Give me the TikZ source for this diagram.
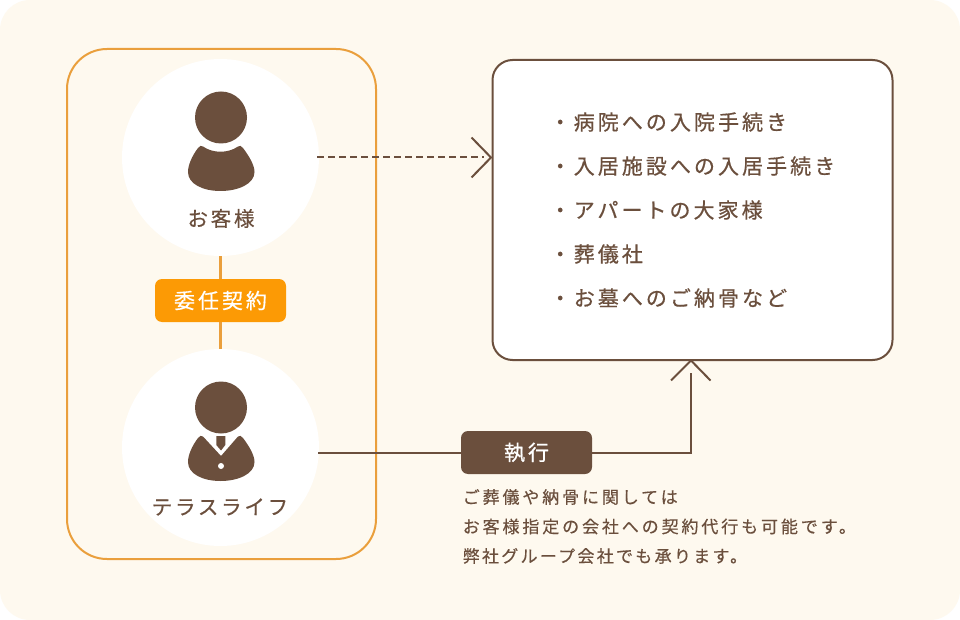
\documentclass[tikz,border=0pt]{standalone}
\usepackage{fontspec}
\newfontfamily\jplist[LetterSpace=14.5,FakeBold=0.6]{Noto Sans CJK JP}
\newfontfamily\jpnote[LetterSpace=17,FakeBold=0.4]{Noto Sans CJK JP}
\newfontfamily\jpnotetight[LetterSpace=13.5,FakeBold=0.4]{Noto Sans CJK JP}
\newfontfamily\jpname[LetterSpace=13.5,FakeBold=0.6]{Noto Sans CJK JP}
\newfontfamily\jptag[LetterSpace=14,FakeBold=0.6]{Noto Sans CJK JP}
\definecolor{bgc}{HTML}{FEF9EF}
\definecolor{brn}{HTML}{6B4F3D}
\definecolor{org}{HTML}{EA9F3C}
\definecolor{tagc}{HTML}{FC9A05}
\tikzset{
  disc/.style={circle,fill=white,minimum size=197pt,inner sep=0pt},
  listtext/.style={anchor=west,inner sep=0pt,text=brn,font=\jplist\fontsize{21}{24}\selectfont},
  notetext/.style={anchor=west,inner sep=0pt,text=brn,font=\jpnote\fontsize{17}{20}\selectfont},
  notetighttext/.style={anchor=west,inner sep=0pt,text=brn,font=\jpnotetight\fontsize{17}{20}\selectfont},
  nametext/.style={anchor=center,inner sep=0pt,text=brn,font=\jpname\fontsize{20.5}{24}\selectfont},
  tagbox/.style={rounded corners=7pt,minimum width=131pt,minimum height=43pt,inner sep=0pt,text=white,font=\jptag\fontsize{21}{24}\selectfont},
  brnline/.style={draw=brn,line width=2pt},
  orgline/.style={draw=org,line width=2pt},
  orglink/.style={draw=org,line width=3pt},
  barb/.style={draw=brn,line width=2pt,miter limit=10}
}
\begin{document}
\begin{tikzpicture}[x=1pt,y=-1pt]
\useasboundingbox (0,0) rectangle (960,620);
\fill[white] (0,0) rectangle (960,620);
\fill[bgc,rounded corners=30pt] (0,0) rectangle (960,620);
\draw[orgline,rounded corners=40pt] (67,49) rectangle (376,559);
\node[disc] (cust) at (220.5,157.5) {};
\node[disc] (terra) at (220.5,447.5) {};
\node[tagbox,fill=tagc] (contract) at (220.5,300.5) {委任契約};
\draw[orglink] (cust.south) -- (contract.north);
\draw[orglink] (contract.south) -- (terra.north);
% customer icon
\fill[brn] (221,117.5) circle (26);
\fill[brn] (198,148) .. controls (199.5,145.5) and (201.5,145.5) .. (203,146.5)
  .. controls (213,153.5) and (228,153.5) .. (238,146.5)
  .. controls (239.5,145.5) and (241.5,145.5) .. (243,148)
  .. controls (249,156) and (254.5,165) .. (254.5,172)
  .. controls (254.5,184) and (238,191) .. (220.5,191)
  .. controls (203,191) and (188,184) .. (188,172)
  .. controls (188,165) and (192,156) .. (198,148) -- cycle;
\node[nametext] (custlabel) at (221,218.5) {お客様};
% staff icon
\fill[brn] (221,407.5) circle (26);
\fill[brn] (198,438) .. controls (199.5,435.5) and (201.5,435.5) .. (203,436.5)
  -- (221,456) -- (238,436.5)
  .. controls (239.5,435.5) and (241.5,435.5) .. (243,438)
  .. controls (249,446) and (254.5,455) .. (254.5,462)
  .. controls (254.5,474) and (238,481) .. (220.5,481)
  .. controls (203,481) and (188,474) .. (188,462)
  .. controls (188,455) and (192,446) .. (198,438) -- cycle;
\fill[brn] (216.3,436) -- (225.3,436) -- (225.3,445) -- (221,450.5) -- (216.3,445) -- cycle;
\fill[white] (221,466) circle (3);
\node[nametext] (terralabel) at (220,507) {テラスライフ};
% right box
\node[draw=brn,line width=2pt,fill=white,rounded corners=20pt,minimum width=400pt,minimum height=300pt,inner sep=0pt] (box) at (692.5,210) {};
\node[listtext] (l1) at (549.5,122) {・病院への入院手続き};
\node[listtext] (l2) at (549.5,166) {・入居施設への入居手続き};
\node[listtext] (l3) at (549.5,210) {・アパートの大家様};
\node[listtext] (l4) at (549.5,254) {・葬儀社};
\node[listtext] (l5) at (549.5,298) {・お墓へのご納骨など};
% connectors
\coordinate (dashend) at (484,157.5);
\draw[brnline,dashed,dash pattern=on 7pt off 4pt] ([xshift=-2pt]cust.east) -- (dashend);
\draw[barb] (471.5,137.5) -- (491,157.5) -- (471.5,177.5);
\node[tagbox,fill=brn] (exec) at (526.5,452.5) {執行};
\draw[brnline] ([xshift=-1pt]terra.east |- exec.west) -- (exec.west);
\coordinate (riseend) at (691,373);
\draw[brnline] (exec.east) -| (riseend);
\draw[barb] (671,380.5) -- (691,360.5) -- (710.5,380.5);
\node[notetext] (n1) at (462.5,497) {ご葬儀や納骨に関しては};
\node[notetext] (n2) at (462.5,526.5) {お客様指定の会社への契約代行も可能です。};
\node[notetighttext] (n3) at (462.5,556) {弊社グループ会社でも承ります。};
\end{tikzpicture}
\end{document}
